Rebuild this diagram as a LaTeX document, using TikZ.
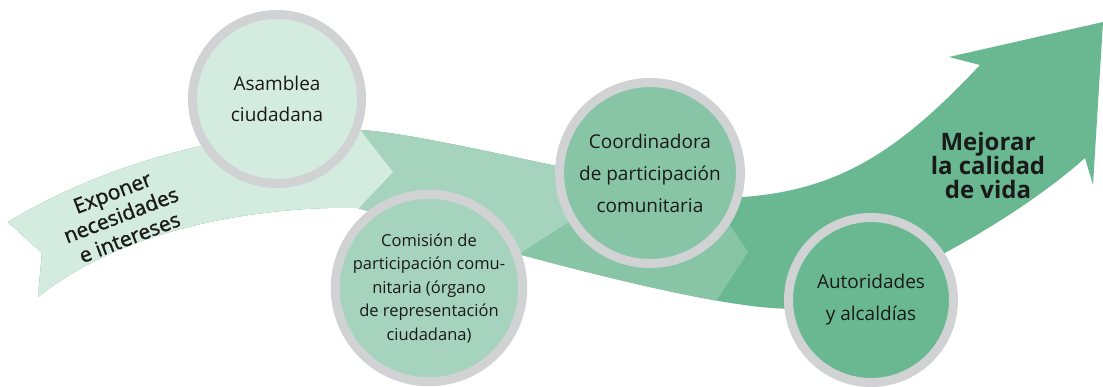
\documentclass[tikz,border=0pt]{standalone}
\usepackage{fontspec}
\setmainfont{Open Sans}
\newfontfamily\medio[FakeBold=1.2]{Open Sans}
\usepackage{xcolor}
\usepackage{tikz}

\definecolor{verdeA}{HTML}{D4EBDF}
\definecolor{verdeB}{HTML}{A6D3BE}
\definecolor{verdeC}{HTML}{88C5A7}
\definecolor{verdeD}{HTML}{6AB891}
\definecolor{aro}{HTML}{D1D2D4}
\definecolor{texto}{HTML}{1A1A1A}

% contour of the whole ribbon
\newcommand{\banda}{(8,222) .. controls (110,160) and (250,125) .. (360,130)
	.. controls (440,134) and (700,205) .. (743,197)
	.. controls (840,190) and (900,150) .. (980,65)
	-- (949,57) -- (1103,22) -- (1093,185) -- (1085,158)
	.. controls (1010,225) and (870,300) .. (800,308)
	.. controls (730,316) and (480,245) .. (358,208)
	.. controls (300,206) and (140,215) .. (38,297)
	-- (42,253) -- cycle}

\begin{document}
\begin{tikzpicture}[x=1pt, y=-1pt,
		ring/.style={circle, draw=aro, line width=9pt, inner sep=0pt, align=center, text=texto},
		lema/.style={align=center, text=texto}]
		\useasboundingbox (0,0) rectangle (1103,387);

		% Ribbon
		\fill[verdeD] \banda;
		\begin{scope}
			\clip (0,0) -- (578,0) -- (748,252) -- (660,387) -- (0,387) -- cycle;
			\fill[verdeC] \banda;
		\end{scope}
		\begin{scope}
			\clip (0,0) -- (422,0) -- (600,202) -- (311,387) -- (0,387) -- cycle;
			\fill[verdeB] \banda;
		\end{scope}
		\begin{scope}
			\clip (0,0) -- (258,0) -- (393,172) -- (189,387) -- (0,387) -- cycle;
			\fill[verdeA] \banda;
		\end{scope}

		% Nodes
		\node (asamblea) [ring, fill=verdeA, minimum size=169pt, font=\fontsize{19}{31}\selectfont] at (277,99) {Asamblea\\ciudadana};
		\node (comision) [ring, fill=verdeB, minimum size=183pt, font=\fontsize{16.5}{23.5}\selectfont] at (429,288) {Comisión de\\participación comu-\\nitaria (órgano\\de representación\\ciudadana)};
		\node (coordinadora) [ring, fill=verdeC, minimum size=181pt, font=\fontsize{19}{32}\selectfont] at (650,173) {Coordinadora\\de participación\\comunitaria};
		\node (autoridades) [ring, fill=verdeD, minimum size=165pt, font=\fontsize{19}{32}\selectfont] at (871,300) {Autoridades\\y alcaldías};

		% Ribbon texts
		\node (exponer) [lema, rotate=21, font=\medio\fontsize{21}{24}\selectfont] at (121,215) {Exponer\\necesidades\\e intereses};
		\node (mejorar) [lema, font=\bfseries\fontsize{24}{24}\selectfont] at (988,166) {Mejorar\\la calidad\\de vida};

	\end{tikzpicture}
\end{document}
